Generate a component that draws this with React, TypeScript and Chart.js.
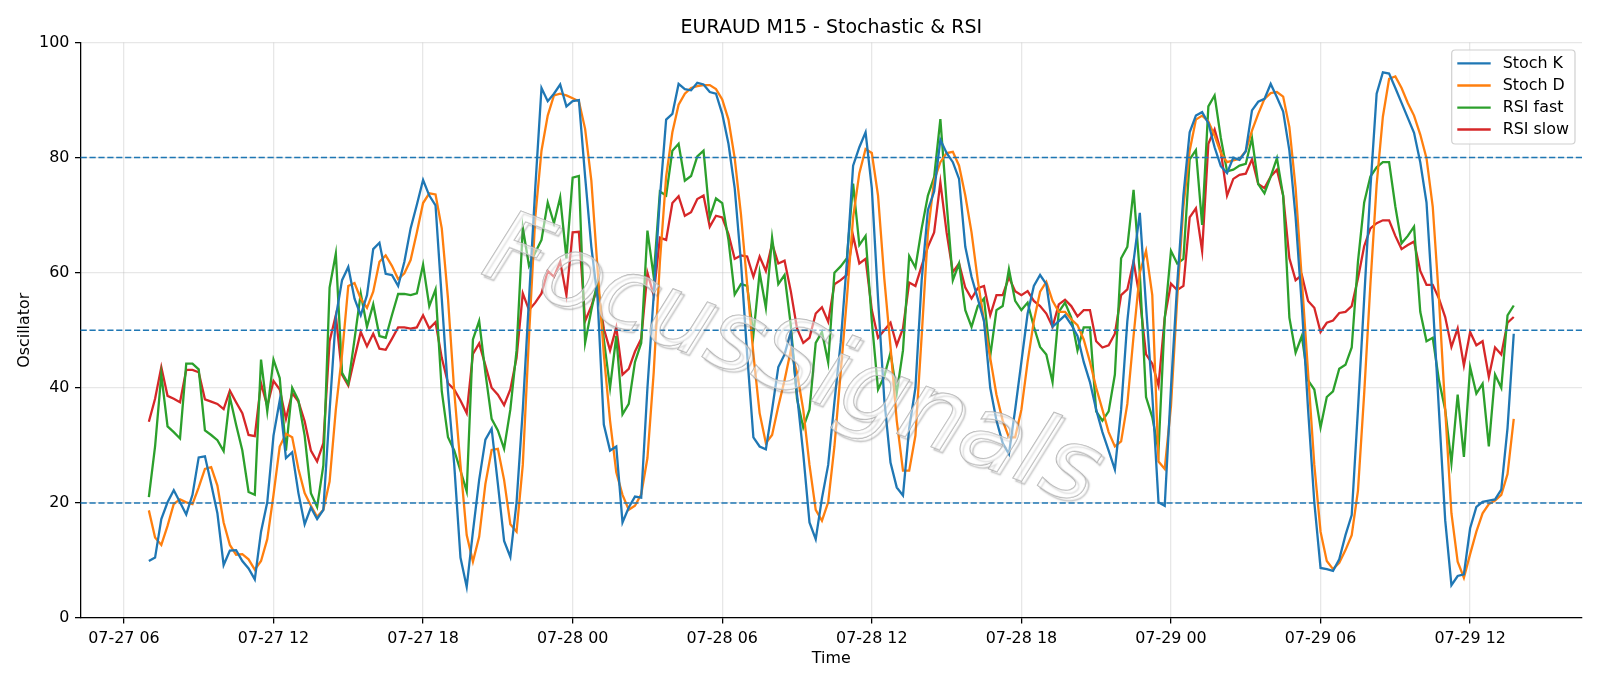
import React, { useEffect, useRef } from "react";
import { Chart, registerables } from "chart.js";

Chart.register(...registerables);

// Time axis: hours counted from 07-27 00:00, one point every 15 minutes
const START_HOUR = 7; // 07-27 07:00
const STEP_HOURS = 0.25;
const X_MIN = 4.2625;
const X_MAX = 64.4875;
const TICK_HOURS = [6, 12, 18, 24, 30, 36, 42, 48, 54, 60];
const TICK_LABELS = ["07-27 06", "07-27 12", "07-27 18", "07-28 00", "07-28 06", "07-28 12", "07-28 18", "07-29 00", "07-29 06", "07-29 12"];
const LEVELS = [20, 50, 80];
const TITLE = "EURAUD M15 - Stochastic & RSI";
const X_LABEL = "Time";
const Y_LABEL = "Oscillator";
const WATERMARK = "FocusSignals";

const stochK = [
  9.9, 10.5, 17.2, 20.1, 22.2, 20.1, 18.0, 21.4, 27.9, 28.1,
  23.3, 18.2, 9.2, 11.7, 11.8, 9.9, 8.6, 6.7, 15.0, 20.1,
  31.7, 37.8, 27.8, 28.8, 21.7, 16.3, 19.2, 17.2, 18.8, 36.0,
  52.3, 58.7, 61.0, 55.5, 52.6, 56.1, 64.1, 65.2, 59.8, 59.6,
  57.7, 61.9, 67.7, 71.8, 76.1, 73.4, 71.7, 55.5, 39.4, 26.6,
  10.5, 5.4, 15.0, 24.0, 31.0, 32.9, 23.3, 13.4, 10.6, 20.1,
  36.2, 55.5, 74.7, 92.1, 89.8, 91.1, 92.7, 88.9, 89.8, 90.0,
  76.7, 64.5, 55.5, 33.6, 29.1, 29.8, 16.6, 19.2, 21.1, 20.9,
  40.0, 56.0, 73.0, 86.6, 87.6, 92.8, 91.9, 91.7, 93.0, 92.7,
  91.4, 91.1, 87.6, 82.4, 74.7, 61.9, 45.8, 31.4, 29.8, 29.3,
  36.2, 43.6, 45.8, 49.7, 38.8, 28.5, 16.6, 13.7, 20.8, 26.6,
  37.5, 47.8, 61.9, 78.6, 81.8, 84.4, 74.7, 55.5, 38.0, 27.0,
  22.7, 21.3, 33.0, 40.0, 58.7, 70.9, 74.1, 83.1, 80.8, 79.2,
  76.3, 64.5, 59.3, 55.5, 51.6, 40.0, 34.3, 30.4, 28.5, 36.2,
  44.5, 52.9, 57.7, 59.6, 58.0, 50.6, 51.6, 52.6, 51.0, 49.0,
  44.5, 41.0, 36.2, 32.3, 29.1, 25.8, 36.2, 51.6, 62.0, 70.4,
  54.2, 38.8, 20.1, 19.5, 40.0, 58.0, 73.5, 84.4, 87.3, 87.9,
  86.0, 81.8, 78.5, 77.3, 80.0, 79.6, 81.1, 88.2, 89.7, 90.2,
  92.8, 90.5, 88.0, 81.2, 69.6, 54.2, 36.2, 20.1, 8.7, 8.5,
  8.2, 10.2, 14.4, 17.9, 36.2, 55.5, 74.7, 91.1, 94.8, 94.6,
  92.1, 89.5, 86.9, 84.3, 79.2, 72.2, 55.0, 36.0, 17.0, 5.7,
  7.3, 7.6, 15.6, 19.3, 20.2, 20.4, 20.6, 22.3, 33.0, 49.4,
];

const stochD = [
  18.7, 14.0, 12.7, 16.0, 19.8, 20.6, 20.1, 19.8, 22.7, 25.9,
  26.2, 23.0, 16.6, 12.7, 11.0, 11.1, 10.2, 8.4, 9.9, 13.7,
  21.4, 29.8, 32.0, 31.4, 25.9, 21.7, 19.5, 17.6, 18.8, 23.7,
  36.2, 45.8, 57.7, 58.2, 55.5, 53.9, 56.7, 61.9, 63.0, 61.2,
  58.9, 59.9, 62.2, 67.0, 72.1, 73.8, 73.6, 67.7, 55.5, 39.4,
  26.6, 14.4, 9.8, 14.1, 23.3, 29.2, 29.4, 24.0, 16.3, 15.0,
  26.6, 49.0, 69.6, 81.2, 87.3, 90.8, 91.1, 90.8, 90.3, 89.8,
  85.0, 76.0, 60.6, 45.8, 34.3, 25.3, 21.4, 18.8, 19.5, 21.5,
  27.8, 42.6, 61.9, 76.7, 84.4, 89.2, 91.1, 92.1, 92.4, 92.6,
  92.6, 91.9, 90.1, 86.6, 79.9, 70.2, 58.0, 45.8, 35.6, 30.4,
  31.8, 36.8, 41.3, 46.5, 42.6, 36.2, 26.6, 18.8, 16.9, 20.1,
  29.8, 42.6, 55.5, 69.6, 77.3, 81.5, 80.8, 73.4, 59.0, 47.1,
  34.3, 25.6, 25.6, 31.7, 49.0, 67.0, 76.0, 79.2, 80.8, 81.0,
  78.6, 73.4, 67.0, 58.7, 51.6, 45.2, 38.8, 34.3, 31.4, 31.4,
  36.2, 44.5, 51.6, 56.7, 58.4, 55.1, 53.2, 53.2, 51.9, 50.9,
  48.4, 44.5, 40.0, 36.2, 32.3, 29.8, 30.7, 37.2, 49.0, 60.0,
  63.8, 56.1, 27.2, 25.9, 36.8, 55.5, 71.5, 81.2, 86.6, 87.3,
  86.3, 83.8, 80.8, 79.2, 79.5, 79.8, 81.1, 84.7, 87.6, 90.2,
  91.2, 91.4, 90.6, 85.3, 74.7, 58.7, 42.6, 26.6, 15.0, 9.9,
  8.5, 9.6, 11.8, 14.4, 22.1, 39.0, 58.0, 75.3, 87.1, 93.7,
  94.1, 92.1, 89.5, 87.3, 84.0, 79.9, 71.5, 55.5, 36.2, 18.2,
  9.8, 7.0, 11.1, 15.0, 18.2, 19.8, 20.4, 21.4, 25.0, 34.6,
];

const rsiFast = [
  21.0, 29.8, 42.3, 33.3, 32.3, 31.2, 44.2, 44.2, 43.2, 32.6,
  31.8, 30.9, 29.0, 38.4, 33.6, 29.1, 21.9, 21.4, 44.9, 35.9,
  44.9, 41.7, 29.1, 40.0, 37.8, 31.7, 21.7, 19.3, 26.5, 57.4,
  63.3, 42.6, 40.7, 48.4, 56.4, 50.6, 54.5, 49.0, 48.7, 52.6,
  56.3, 56.3, 56.1, 56.4, 61.4, 54.2, 57.1, 39.4, 31.4, 29.1,
  25.6, 22.0, 48.4, 51.6, 42.6, 34.6, 32.6, 29.4, 36.2, 46.5,
  67.8, 61.2, 63.5, 65.7, 72.2, 68.6, 73.1, 62.5, 76.5, 76.8,
  47.8, 53.5, 58.5, 48.4, 40.0, 49.0, 35.4, 37.2, 44.5, 47.8,
  67.3, 59.3, 74.1, 73.4, 81.2, 82.4, 76.0, 76.8, 80.2, 81.2,
  69.6, 72.9, 72.1, 65.7, 56.2, 58.0, 57.7, 49.2, 60.0, 53.9,
  66.1, 58.0, 59.6, 50.9, 38.1, 33.1, 36.2, 47.8, 49.7, 44.4,
  60.0, 61.1, 62.5, 75.5, 64.8, 66.4, 51.6, 39.7, 42.0, 46.1,
  39.1, 46.5, 62.9, 60.9, 67.7, 73.4, 76.6, 86.7, 72.2, 58.7,
  61.6, 53.5, 50.6, 54.2, 55.5, 45.5, 53.5, 54.2, 60.6, 55.1,
  53.5, 54.8, 50.6, 47.1, 45.8, 41.0, 53.2, 54.8, 52.2, 46.5,
  50.5, 50.5, 35.9, 34.3, 35.9, 42.3, 62.5, 64.5, 74.4, 59.9,
  38.4, 34.9, 29.1, 52.0, 63.8, 61.6, 62.4, 79.7, 81.3, 68.3,
  88.9, 90.8, 83.4, 77.6, 77.9, 78.6, 78.9, 83.4, 75.4, 73.8,
  76.7, 79.9, 73.4, 52.2, 46.1, 49.0, 41.3, 39.7, 33.1, 38.4,
  39.4, 43.3, 44.0, 47.0, 61.9, 72.2, 76.7, 78.3, 79.2, 79.2,
  71.5, 65.1, 66.4, 68.0, 53.2, 48.1, 48.7, 41.3, 36.2, 26.9,
  38.8, 28.0, 43.6, 39.0, 40.7, 29.8, 42.3, 40.0, 52.6, 54.3,
];

const rsiSlow = [
  34.1, 38.1, 43.6, 38.6, 38.1, 37.5, 43.1, 43.1, 42.7, 38.0,
  37.6, 37.2, 36.3, 39.5, 37.5, 35.6, 31.8, 31.6, 40.8, 36.8,
  41.2, 39.7, 34.6, 39.1, 37.6, 34.2, 29.1, 27.2, 30.4, 48.1,
  52.6, 42.3, 40.4, 45.2, 49.7, 47.2, 49.4, 46.8, 46.6, 48.5,
  50.5, 50.5, 50.3, 50.5, 52.6, 50.3, 51.4, 45.2, 40.8, 39.7,
  37.8, 35.6, 45.9, 47.7, 43.9, 40.0, 38.8, 37.0, 39.7, 45.2,
  56.4, 53.5, 54.8, 56.4, 60.3, 59.3, 61.9, 56.1, 67.0, 67.1,
  51.6, 54.2, 57.4, 50.3, 46.5, 50.5, 42.3, 43.3, 46.3, 48.5,
  60.0, 56.1, 66.1, 65.7, 72.1, 73.3, 69.9, 70.5, 72.8, 73.4,
  68.0, 69.9, 69.6, 66.7, 62.4, 63.0, 62.8, 59.3, 62.8, 60.3,
  65.1, 61.6, 62.1, 56.8, 50.3, 47.8, 48.7, 52.9, 54.0, 51.5,
  58.0, 58.7, 59.6, 66.4, 61.6, 62.4, 53.5, 48.7, 50.0, 51.3,
  47.4, 50.3, 58.3, 57.7, 61.2, 64.5, 67.0, 75.7, 67.0, 60.1,
  61.6, 57.4, 55.5, 57.3, 57.7, 52.6, 56.1, 56.1, 59.2, 56.8,
  56.1, 56.8, 55.1, 54.2, 52.9, 50.6, 54.5, 55.3, 54.2, 52.4,
  53.5, 53.5, 48.1, 47.0, 47.4, 49.4, 56.1, 57.1, 62.0, 55.5,
  45.8, 44.2, 40.4, 52.2, 58.1, 57.0, 57.7, 69.6, 71.2, 63.8,
  82.4, 84.9, 81.1, 73.4, 76.3, 77.0, 77.2, 79.7, 75.4, 74.7,
  76.7, 77.9, 73.4, 62.5, 58.7, 59.6, 55.1, 53.9, 49.7, 51.3,
  51.7, 53.0, 53.2, 54.2, 59.0, 64.6, 67.7, 68.6, 69.1, 69.1,
  66.4, 64.1, 64.8, 65.4, 60.3, 57.9, 57.9, 55.5, 52.3, 47.1,
  50.3, 43.9, 49.7, 47.4, 48.1, 41.9, 47.0, 45.8, 51.3, 52.3,
];

const SERIES = [
  { label: "Stoch K", values: stochK, color: "#1f77b4" },
  { label: "Stoch D", values: stochD, color: "#ff7f0e" },
  { label: "RSI fast", values: rsiFast, color: "#2ca02c" },
  { label: "RSI slow", values: rsiSlow, color: "#d62728" },
];

const FONT = "'DejaVu Sans', 'Liberation Sans', sans-serif";

const decorPlugin = {
  id: "decor",
  afterDatasetsDraw(chart: any) {
    const { ctx, chartArea, scales } = chart;
    const y = scales.y;
    // level lines
    ctx.save();
    ctx.strokeStyle = "#1f77b4";
    ctx.lineWidth = 1.5;
    ctx.setLineDash([6.2, 2.7]);
    LEVELS.forEach((lv) => {
      const py = y.getPixelForValue(lv);
      ctx.beginPath();
      ctx.moveTo(chartArea.left, py);
      ctx.lineTo(chartArea.right, py);
      ctx.stroke();
    });
    ctx.restore();

    // watermark
    ctx.save();
    ctx.beginPath();
    ctx.rect(chartArea.left, chartArea.top, chartArea.right - chartArea.left, chartArea.bottom - chartArea.top);
    ctx.clip();
    ctx.translate(791, 365);
    ctx.rotate((21 * Math.PI) / 180);
    ctx.font = `oblique 100px ${FONT}`;
    ctx.textAlign = "center";
    ctx.textBaseline = "middle";
    ctx.shadowColor = "rgba(100,100,100,0.55)";
    ctx.shadowOffsetX = 3;
    ctx.shadowOffsetY = 3;
    ctx.shadowBlur = 1.5;
    ctx.lineWidth = 1.3;
    ctx.strokeStyle = "rgba(165,165,165,0.85)";
    ctx.strokeText(WATERMARK, 0, 0);
    ctx.shadowColor = "transparent";
    ctx.fillStyle = "rgba(255,255,255,0.5)";
    ctx.fillText(WATERMARK, 0, 0);
    ctx.restore();
  },
  afterDraw(chart: any) {
    const { ctx, chartArea } = chart;
    const cx = (chartArea.left + chartArea.right) / 2;
    const cy = (chartArea.top + chartArea.bottom) / 2;
    ctx.save();
    ctx.fillStyle = "#000";
    ctx.textAlign = "center";
    ctx.textBaseline = "alphabetic";
    ctx.font = `19px ${FONT}`;
    ctx.fillText(TITLE, cx, 33.3);
    ctx.font = `15.9px ${FONT}`;
    ctx.fillText(X_LABEL, cx, 663.3);
    ctx.save();
    ctx.translate(29.4, cy);
    ctx.rotate(-Math.PI / 2);
    ctx.fillText(Y_LABEL, 0, 0);
    ctx.restore();

    // legend
    const bx = 1451.7, by = 50, bw = 123.3, bh = 94, r = 3.5;
    ctx.beginPath();
    ctx.moveTo(bx + r, by);
    ctx.lineTo(bx + bw - r, by);
    ctx.arcTo(bx + bw, by, bx + bw, by + r, r);
    ctx.lineTo(bx + bw, by + bh - r);
    ctx.arcTo(bx + bw, by + bh, bx + bw - r, by + bh, r);
    ctx.lineTo(bx + r, by + bh);
    ctx.arcTo(bx, by + bh, bx, by + bh - r, r);
    ctx.lineTo(bx, by + r);
    ctx.arcTo(bx, by, bx + r, by, r);
    ctx.closePath();
    ctx.fillStyle = "rgba(255,255,255,0.8)";
    ctx.fill();
    ctx.strokeStyle = "#d0d0d0";
    ctx.lineWidth = 1.2;
    ctx.stroke();
    const rows = [63.3, 85.5, 107.6, 129.5];
    ctx.textAlign = "left";
    ctx.textBaseline = "middle";
    ctx.font = `15.9px ${FONT}`;
    chart.data.datasets.forEach((ds: any, i: number) => {
      const ry = rows[i];
      ctx.strokeStyle = ds.borderColor;
      ctx.lineWidth = 2.3;
      ctx.beginPath();
      ctx.moveTo(1457.3, ry);
      ctx.lineTo(1490.7, ry);
      ctx.stroke();
      ctx.fillStyle = "#000";
      ctx.fillText(ds.label, 1502.7, ry + 0.5);
    });
    ctx.restore();
  },
};

export default function App() {
  const ref = useRef<HTMLCanvasElement | null>(null);

  useEffect(() => {
    if (!ref.current) return;
    const times = stochK.map((_, i) => START_HOUR + i * STEP_HOURS);
    const gridColor = "rgba(176,176,176,0.3)";
    const chart = new Chart(ref.current, {
      type: "line",
      data: {
        datasets: SERIES.map((s) => ({
          label: s.label,
          data: s.values.map((v, i) => ({ x: times[i], y: v })),
          borderColor: s.color,
          backgroundColor: s.color,
          borderWidth: 2.3,
          pointRadius: 0,
          tension: 0,
          fill: false,
        })),
      },
      options: {
        responsive: false,
        animation: false,
        devicePixelRatio: 1,
        events: [],
        layout: { padding: { top: 42.5, right: 18, left: 0, bottom: 0 } },
        plugins: {
          legend: { display: false },
          title: { display: false },
          tooltip: { enabled: false },
        },
        scales: {
          x: {
            type: "linear",
            min: X_MIN,
            max: X_MAX,
            afterBuildTicks: (scale: any) => {
              scale.ticks = TICK_HOURS.map((v) => ({ value: v }));
            },
            afterFit: (scale: any) => {
              scale.height = 68;
            },
            ticks: {
              autoSkip: false,
              maxRotation: 0,
              padding: 5.5,
              color: "#000",
              font: { family: FONT, size: 15.9 },
              callback: (v: any) => {
                const idx = TICK_HOURS.indexOf(Number(v));
                return idx >= 0 ? TICK_LABELS[idx] : "";
              },
            },
            grid: { color: gridColor, lineWidth: 1.27, tickLength: 5.6, tickColor: "#000", tickWidth: 1.27 },
            border: { display: true, color: "#000", width: 1.27 },
          },
          y: {
            min: 0,
            max: 100,
            afterFit: (scale: any) => {
              scale.width = 80.6;
            },
            ticks: {
              stepSize: 20,
              padding: 5.6,
              color: "#000",
              font: { family: FONT, size: 15.9 },
            },
            grid: { color: gridColor, lineWidth: 1.27, tickLength: 5.6, tickColor: "#000", tickWidth: 1.27 },
            border: { display: true, color: "#000", width: 1.27 },
          },
        },
      },
      plugins: [decorPlugin],
    } as any);
    return () => chart.destroy();
  }, []);

  return (
    <div style={{ position: "fixed", left: 0, top: 0, width: 1600, height: 686, background: "#fff" }}>
      <canvas ref={ref} width={1600} height={686} style={{ width: 1600, height: 686, display: "block" }} />
    </div>
  );
}
